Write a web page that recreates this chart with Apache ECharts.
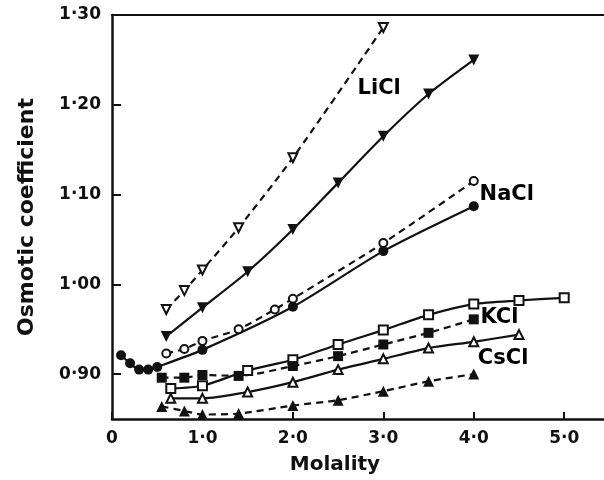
<!DOCTYPE html>
<html>
<head>
<meta charset="utf-8">
<script src="https://cdn.jsdelivr.net/npm/echarts@6/dist/echarts.min.js"></script>
<style>
html,body{margin:0;padding:0;background:#fff}
#chart{width:604px;height:480px}
</style>
</head>
<body>
<div id="chart"></div>
<script>
// values
var xTicks = [0, 1, 2, 3, 4, 5];
var yTicks = [0.90, 1.00, 1.10, 1.20, 1.30];

var liclOpenM = [0.6, 0.8, 1.0, 1.4, 2.0, 3.0];
var liclOpenPhi = [0.972, 0.993, 1.016, 1.063, 1.141, 1.286];
var liclFillM = [0.6, 1.0, 1.5, 2.0, 2.5, 3.0, 3.5, 4.0];
var liclFillPhi = [0.942, 0.974, 1.014, 1.061, 1.113, 1.165, 1.212, 1.250];

var naclOpenM = [0.6, 0.8, 1.0, 1.4, 1.8, 2.0, 3.0, 4.0];
var naclOpenPhi = [0.923, 0.928, 0.937, 0.950, 0.972, 0.984, 1.046, 1.115];
var naclFillM = [0.1, 0.2, 0.3, 0.4, 0.5, 1.0, 2.0, 3.0, 4.0];
var naclFillPhi = [0.921, 0.912, 0.905, 0.905, 0.908, 0.927, 0.975, 1.037, 1.087];

var kclOpenM = [0.65, 1.0, 1.5, 2.0, 2.5, 3.0, 3.5, 4.0, 4.5, 5.0];
var kclOpenPhi = [0.884, 0.887, 0.904, 0.916, 0.933, 0.949, 0.966, 0.978, 0.982, 0.985];
var kclFillM = [0.55, 0.8, 1.0, 1.4, 2.0, 2.5, 3.0, 3.5, 4.0];
var kclFillPhi = [0.896, 0.896, 0.899, 0.898, 0.909, 0.920, 0.933, 0.946, 0.961];

var csclOpenM = [0.65, 1.0, 1.5, 2.0, 2.5, 3.0, 3.5, 4.0, 4.5];
var csclOpenPhi = [0.873, 0.873, 0.880, 0.891, 0.905, 0.917, 0.929, 0.936, 0.944];
var csclFillM = [0.55, 0.8, 1.0, 1.4, 2.0, 2.5, 3.0, 3.5, 4.0];
var csclFillPhi = [0.864, 0.859, 0.855, 0.856, 0.865, 0.871, 0.881, 0.892, 0.900];

var saltNames = ['LiCl', 'NaCl', 'KCl', 'CsCl'];
var saltLabelAt = [[2.96, 1.218], [4.37, 1.100], [4.29, 0.963], [4.33, 0.917]];

var ink = '#111';
var font = '"DejaVu Sans", sans-serif';

function pairs(xs, ys) {
    var out = [];
    for (var i = 0; i < xs.length; i++) {
        out.push([xs[i], ys[i]]);
    }
    return out;
}

function dot(v) {
    return String(v).replace('.', '\u00b7');
}

function curve(xs, ys, symbol, dashed, rotate, size) {
    return {
        type: 'line',
        data: pairs(xs, ys),
        smooth: 0.25,
        symbol: symbol,
        symbolSize: size || 9,
        symbolRotate: rotate || 0,
        showSymbol: true,
        itemStyle: {color: ink, borderWidth: 1.8},
        lineStyle: {color: ink, width: 2.2, type: dashed ? [7, 5] : 'solid'},
        z: 3,
        silent: true
    };
}

var series = [
    curve(liclOpenM, liclOpenPhi, 'emptyTriangle', true, 180, 9),
    curve(liclFillM, liclFillPhi, 'triangle', false, 180, 11),
    curve(naclOpenM, naclOpenPhi, 'emptyCircle', true, 0, 8),
    curve(naclFillM, naclFillPhi, 'circle', false, 0, 10),
    curve(kclOpenM, kclOpenPhi, 'emptyRect', false, 0, 9),
    curve(kclFillM, kclFillPhi, 'rect', true, 0, 10),
    curve(csclOpenM, csclOpenPhi, 'emptyTriangle', false, 0, 9),
    curve(csclFillM, csclFillPhi, 'triangle', true, 0, 11)
];

var labelData = [];
for (var i = 0; i < saltNames.length; i++) {
    labelData.push({name: saltNames[i], value: saltLabelAt[i]});
}
series.push({
    type: 'scatter',
    data: labelData,
    symbolSize: 1,
    itemStyle: {opacity: 0},
    silent: true,
    z: 5,
    label: {
        show: true,
        position: [0, 0],
        align: 'center',
        verticalAlign: 'middle',
        formatter: '{b}',
        color: '#000',
        opacity: 1,
        textBorderWidth: 0,
        fontFamily: font,
        fontWeight: 'bold',
        fontSize: 21
    }
});

var chart = echarts.init(document.getElementById('chart'));
chart.setOption({
    backgroundColor: '#fff',
    animation: false,
    grid: {left: 112, right: 0, top: 15, bottom: 61},
    xAxis: [{
        type: 'value',
        min: 0,
        max: 5.44,
        interval: 1,
        name: 'Molality',
        nameLocation: 'middle',
        nameGap: 36,
        nameTextStyle: {color: ink, fontFamily: font, fontWeight: 'bold', fontSize: 20, padding: [0, 46, 0, 0]},
        axisLine: {show: true, lineStyle: {color: ink, width: 2.5}},
        axisTick: {show: true, inside: true, length: 7, lineStyle: {color: ink, width: 2}},
        axisLabel: {
            color: ink, fontFamily: font, fontWeight: 'bold', fontSize: 17, margin: 11,
            showMaxLabel: false,
            formatter: function (v) { return v === 0 ? '0' : dot(v.toFixed(1)); }
        },
        splitLine: {show: false}
    }, {
        type: 'value',
        position: 'top',
        min: 0,
        max: 5.44,
        axisLine: {show: true, lineStyle: {color: ink, width: 2}},
        axisTick: {show: false},
        axisLabel: {show: false},
        splitLine: {show: false}
    }],
    yAxis: {
        type: 'value',
        min: 0.85,
        max: 1.30,
        name: 'Osmotic coefficient',
        nameLocation: 'middle',
        nameGap: 74,
        nameRotate: 90,
        nameTextStyle: {color: ink, fontFamily: font, fontWeight: 'bold', fontSize: 22},
        axisLine: {show: true, lineStyle: {color: ink, width: 2.5}},
        axisTick: {show: true, inside: true, length: 9, lineStyle: {color: ink, width: 2},
            customValues: yTicks},
        axisLabel: {
            color: ink, fontFamily: font, fontWeight: 'bold', fontSize: 17, margin: 11,
            customValues: yTicks,
            formatter: function (v) { return dot(v.toFixed(2)); }
        },
        splitLine: {show: false}
    },
    series: series
});
</script>
</body>
</html>
